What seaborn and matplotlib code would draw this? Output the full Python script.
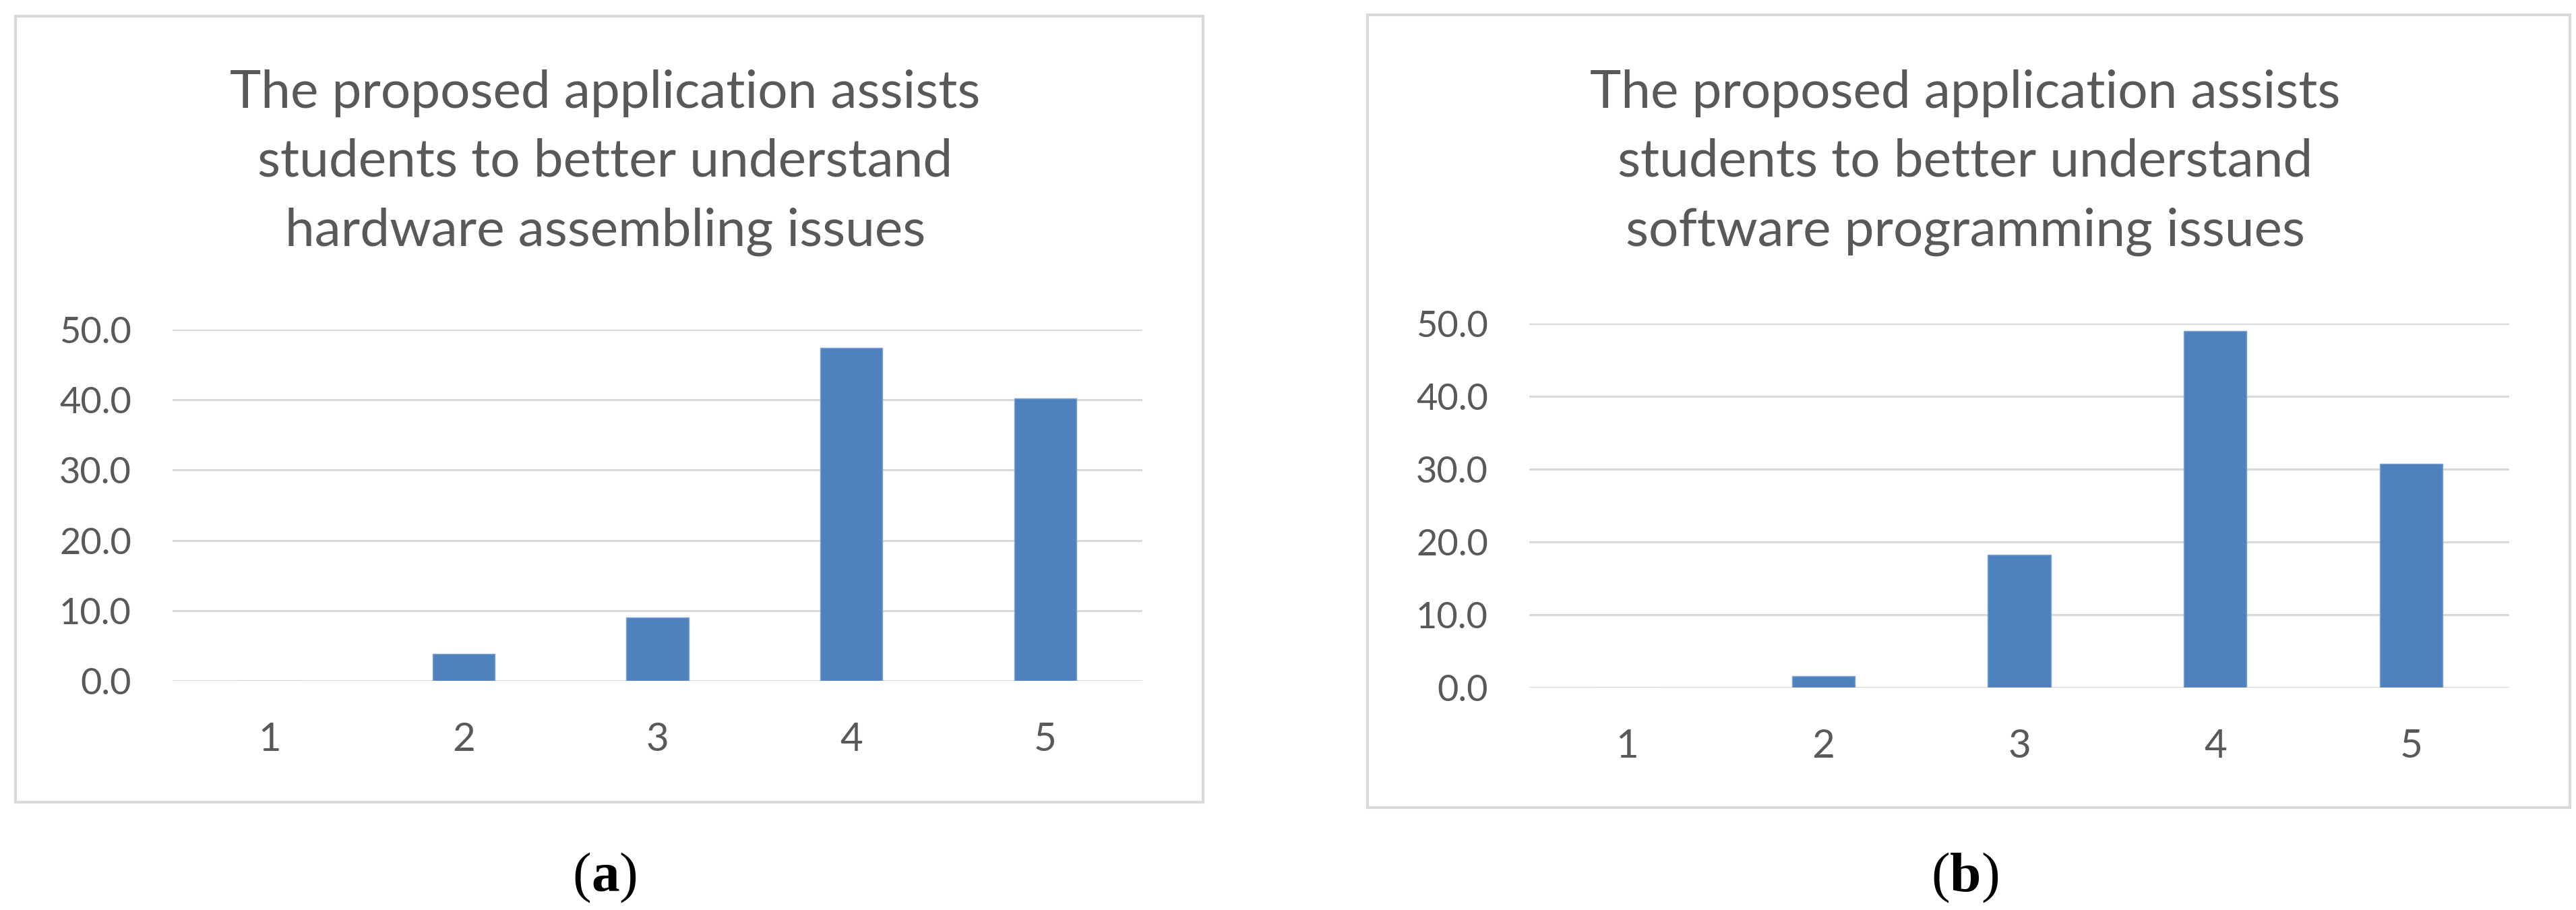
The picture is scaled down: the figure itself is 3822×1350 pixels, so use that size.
import numpy as np
import pandas as pd
import matplotlib
matplotlib.use("Agg")
import matplotlib.pyplot as plt
import seaborn as sns
from matplotlib.patches import Rectangle

# ---- data ----
categories = ["1", "2", "3", "4", "5"]
hardware_pct = [0.0, 3.8, 9.0, 47.4, 40.2]
software_pct = [0.0, 1.6, 18.2, 49.0, 30.7]
title_a = ["The proposed application assists",
           "students to better understand",
           "hardware assembling issues"]
title_b = ["The proposed application assists",
           "students to better understand",
           "software programming issues"]
yticks = [0, 10, 20, 30, 40, 50]
ytick_labels = ["0.0", "10.0", "20.0", "30.0", "40.0", "50.0"]
captions = ["a", "b"]

sns.set_theme(style="white")
plt.rcParams["font.family"] = ["Lato", "DejaVu Sans"]

W, H = 3823, 1350
fig = plt.figure(figsize=(W / 100, H / 100), dpi=100)
fig.patch.set_facecolor("white")

TXT = "#595959"
GRID = "#d9d9d9"
BAR = "#4f81bd"

def fx(px):
    return px / W

def fy(py):
    return 1 - py / H

panels = [
    dict(vals=hardware_pct, title=title_a, cap=captions[0],
         frame=(23, 24, 1785, 1190), ax=(256, 489, 1695, 1010), cx=898,
         tbase=[160, 262, 365], capy=1322),
    dict(vals=software_pct, title=title_b, cap=captions[1],
         frame=(2029, 22, 3813, 1198), ax=(2269, 480, 3723, 1020), cx=2916,
         tbase=[160, 262, 365], capy=1322),
]

for p in panels:
    x0, y0, x1, y1 = p["frame"]
    fig.add_artist(Rectangle((fx(x0), fy(y1)), fx(x1) - fx(x0), fy(y0) - fy(y1),
                             transform=fig.transFigure, fill=False,
                             edgecolor=GRID, linewidth=3))
    ax0, ay0, ax1, ay1 = p["ax"]
    ax = fig.add_axes([fx(ax0), fy(ay1), fx(ax1) - fx(ax0), fy(ay0) - fy(ay1)])
    df = pd.DataFrame({"score": categories, "pct": p["vals"]})
    sns.barplot(data=df, x="score", y="pct", color=BAR, width=0.32,
                saturation=1, edgecolor="#7fa3d3", linewidth=1.0, ax=ax, zorder=3)
    ax.set_xlim(-0.5, 4.5)
    ax.set_ylim(0, 50)
    ax.set_yticks(yticks)
    ax.set_yticklabels(ytick_labels)
    ax.yaxis.grid(True, color=GRID, linewidth=2.2, zorder=0)
    ax.set_axisbelow(True)
    for s in ax.spines.values():
        s.set_visible(False)
    ax.set_xlabel("")
    ax.set_ylabel("")
    ax.tick_params(axis="y", length=0, pad=44, labelsize=39, labelcolor=TXT)
    ax.tick_params(axis="x", length=0, pad=44, labelsize=42, labelcolor=TXT)
    ax.patch.set_alpha(0)

    for line, yb in zip(p["title"], p["tbase"]):
        fig.text(fx(p["cx"]), fy(yb), line, ha="center", va="baseline",
                 fontsize=56.5, color=TXT)

    serif = ["Liberation Serif", "DejaVu Serif"]
    a = fig.text(fx(p["cx"]), fy(p["capy"]), p["cap"], ha="center", va="baseline",
                 fontsize=60, fontweight="bold", color="black", family=serif)
    ax.annotate("(", xy=(0, 0), xycoords=a, ha="right", va="bottom",
                fontsize=60, color="black", family=serif, annotation_clip=False)
    ax.annotate(")", xy=(1, 0), xycoords=a, ha="left", va="bottom",
                fontsize=60, color="black", family=serif, annotation_clip=False)

fig.savefig("out.png", dpi=100, facecolor="white")
